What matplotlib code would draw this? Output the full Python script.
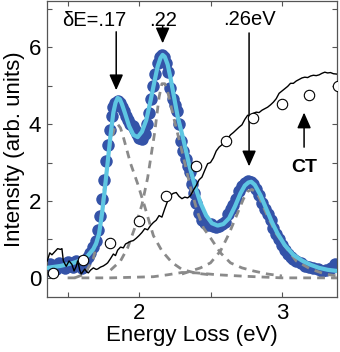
import matplotlib
matplotlib.use("Agg")
import matplotlib.pyplot as plt
from matplotlib.ticker import MultipleLocator

plt.rcParams['font.family'] = ['Liberation Sans', 'DejaVu Sans']

# ---- data ----
dots_x = [1.36, 1.38, 1.40, 1.42, 1.44, 1.46, 1.48, 1.50, 1.52, 1.54, 1.56, 1.58, 1.60, 1.62, 1.64,
          1.66, 1.68, 1.70, 1.715, 1.73, 1.74, 1.755, 1.77, 1.78, 1.795, 1.81, 1.82, 1.835, 1.85,
          1.865, 1.88, 1.895, 1.91, 1.925, 1.94, 1.955, 1.97, 1.985, 2.00, 2.02, 2.04, 2.055, 2.07,
          2.085, 2.10, 2.115, 2.13, 2.145, 2.16, 2.175, 2.19, 2.205, 2.22, 2.235, 2.25, 2.265, 2.28,
          2.295, 2.31, 2.325, 2.34, 2.355, 2.37, 2.385, 2.40, 2.42, 2.44, 2.46, 2.48, 2.50, 2.52,
          2.54, 2.56, 2.58, 2.60, 2.62, 2.64, 2.66, 2.68, 2.70, 2.72, 2.74, 2.76, 2.78, 2.80, 2.82,
          2.84, 2.86, 2.88, 2.90, 2.92, 2.94, 2.96, 2.98, 3.00, 3.02, 3.04, 3.06, 3.08, 3.10, 3.13,
          3.16, 3.19, 3.22, 3.25, 3.28, 3.31, 3.34, 3.37, 3.39]
dots_y = [0.20, 0.35, 0.28, 0.22, 0.38, 0.30, 0.25, 0.40, 0.32, 0.28, 0.45, 0.35, 0.25, 0.40, 0.55,
          0.65, 0.80, 0.95, 1.25, 1.60, 2.05, 2.55, 3.05, 3.45, 3.85, 4.20, 4.45, 4.55, 4.60,
          4.55, 4.45, 4.35, 4.20, 4.10, 4.00, 3.95, 3.85, 3.75, 3.65, 3.60, 3.75, 4.00, 4.30,
          4.65, 5.00, 5.30, 5.60, 5.75, 5.80, 5.75, 5.60, 5.35, 4.95, 4.65, 4.50, 4.35, 4.00,
          3.55, 3.30, 3.10, 2.90, 2.75, 2.45, 2.20, 1.95, 1.70, 1.50, 1.42, 1.38, 1.40, 1.35,
          1.32, 1.35, 1.40, 1.45, 1.65, 1.80, 1.90, 2.05, 2.25, 2.40, 2.48, 2.52, 2.50, 2.45, 2.30,
          2.15, 1.95, 1.80, 1.65, 1.50, 1.30, 1.15, 1.00, 0.85, 0.72, 0.62, 0.55, 0.50, 0.45, 0.38,
          0.32, 0.28, 0.25, 0.22, 0.18, 0.20, 0.25, 0.35, 0.30]

fit_x = [1.355, 1.45, 1.54, 1.60, 1.64, 1.68, 1.70, 1.72, 1.74, 1.76, 1.78, 1.80, 1.82, 1.835,
         1.85, 1.865, 1.88, 1.90, 1.93, 1.96, 1.99, 2.02, 2.05, 2.08, 2.11, 2.13, 2.15, 2.165,
         2.18, 2.20, 2.22, 2.24, 2.27, 2.31, 2.35, 2.39, 2.43, 2.47, 2.51, 2.55, 2.59, 2.63,
         2.67, 2.71, 2.74, 2.765, 2.785, 2.81, 2.85, 2.89, 2.93, 2.97, 3.02, 3.08, 3.14, 3.20,
         3.26, 3.32, 3.385]
fit_y = [0.26, 0.31, 0.39, 0.47, 0.57, 0.75, 0.90, 1.15, 1.65, 2.30, 3.00, 3.70, 4.30, 4.55,
         4.68, 4.65, 4.52, 4.30, 3.95, 3.72, 3.66, 3.80, 4.10, 4.60, 5.15, 5.50, 5.72, 5.80,
         5.75, 5.55, 5.20, 4.80, 4.20, 3.60, 2.95, 2.40, 1.95, 1.62, 1.42, 1.36, 1.40, 1.55,
         1.85, 2.20, 2.40, 2.48, 2.50, 2.42, 2.15, 1.80, 1.45, 1.15, 0.85, 0.60, 0.45, 0.34,
         0.26, 0.21, 0.18]

comp1_x = [1.55, 1.62, 1.68, 1.72, 1.76, 1.80, 1.83, 1.85, 1.87, 1.89, 1.94, 1.99, 2.04, 2.10,
           2.16, 2.23, 2.30, 2.40, 2.50]
comp1_y = [0.00, 0.10, 0.50, 1.20, 2.45, 3.50, 3.92, 4.00, 3.90, 3.66, 2.98, 2.45, 1.85, 1.10,
           0.70, 0.40, 0.22, 0.12, 0.08]

comp2_x = [1.80, 1.87, 1.92, 1.97, 2.02, 2.06, 2.11, 2.14, 2.16, 2.18, 2.20, 2.24, 2.30, 2.36,
           2.41, 2.45, 2.50, 2.57, 2.64, 2.72, 2.80, 2.90, 3.00]
comp2_y = [0.20, 0.44, 0.78, 1.30, 1.90, 2.60, 3.80, 4.70, 5.05, 5.05, 4.85, 4.20, 3.30, 2.35,
           1.70, 1.30, 1.04, 0.65, 0.39, 0.26, 0.18, 0.10, 0.05]

comp3_x = [2.30, 2.43, 2.50, 2.57, 2.63, 2.68, 2.73, 2.76, 2.79, 2.82, 2.84, 2.90, 2.96, 3.03,
           3.10, 3.20, 3.30, 3.385]
comp3_y = [0.10, 0.26, 0.39, 0.70, 1.15, 1.60, 2.05, 2.25, 2.30, 2.22, 2.10, 1.60, 1.15, 0.78,
           0.44, 0.23, 0.10, 0.05]

base_x = [1.50, 1.80, 2.10, 2.20, 2.30, 2.40, 2.55, 2.75, 3.00, 3.385]
base_y = [0.00, 0.00, 0.03, 0.08, 0.14, 0.13, 0.08, 0.04, 0.00, 0.00]

black_x = [1.357, 1.375, 1.39, 1.41, 1.43, 1.45, 1.46, 1.47, 1.49, 1.51, 1.53, 1.545, 1.56, 1.57,
           1.585, 1.595, 1.61, 1.62, 1.635, 1.645, 1.66, 1.68, 1.70, 1.71, 1.73, 1.75, 1.77,
           1.78, 1.80, 1.82, 1.835, 1.85, 1.87, 1.89, 1.905, 1.92, 1.94, 1.96, 1.98, 2.00, 2.02,
           2.04, 2.06, 2.08, 2.10, 2.12, 2.14, 2.16, 2.18, 2.20, 2.22, 2.24, 2.26, 2.28, 2.30,
           2.32, 2.34, 2.36, 2.38, 2.40, 2.42, 2.44, 2.46, 2.48, 2.50, 2.52, 2.54, 2.56, 2.58,
           2.60, 2.62, 2.64, 2.66, 2.68, 2.70, 2.72, 2.74, 2.76, 2.78, 2.80, 2.82, 2.84, 2.86,
           2.88, 2.90, 2.92, 2.94, 2.96, 2.98, 3.00, 3.02, 3.04, 3.06, 3.08, 3.10, 3.12, 3.14,
           3.16, 3.18, 3.20, 3.22, 3.24, 3.26, 3.28, 3.30, 3.32, 3.34, 3.36, 3.385]
black_y = [0.44, 0.65, 0.60, 0.68, 0.76, 0.74, 0.76, 0.44, 0.30, 0.44, 0.35, 0.18, 0.30, 0.44,
           0.20, 0.10, 0.18, 0.23, 0.15, 0.13, 0.20, 0.26, 0.22, 0.23, 0.28, 0.31, 0.36,
           0.39, 0.50, 0.62, 0.58, 0.72, 0.80, 0.78, 0.88, 0.91, 0.95, 0.97, 1.03, 1.10, 1.18,
           1.28, 1.25, 1.36, 1.44, 1.50, 1.62, 1.58, 1.80, 2.00, 2.15, 2.20, 2.22, 2.12, 2.06,
           2.10, 2.08, 2.14, 2.28, 2.40, 2.55, 2.62, 2.80, 2.97, 3.00, 3.12, 3.30, 3.40, 3.46,
           3.58, 3.62, 3.72, 3.78, 3.85, 3.92, 3.98, 4.12, 4.23, 4.22, 4.28, 4.31, 4.30, 4.36,
           4.40, 4.44, 4.50, 4.57, 4.66, 4.80, 4.86, 4.92, 4.98, 5.06, 5.06, 5.12, 5.16, 5.20,
           5.22, 5.21, 5.25, 5.27, 5.26, 5.28, 5.32, 5.35, 5.33, 5.34, 5.31, 5.30]

circ_x = [1.40, 1.61, 1.80, 2.00, 2.19, 2.40, 2.61, 2.80, 3.00, 3.19, 3.39]
circ_y = [0.13, 0.47, 0.91, 1.49, 2.14, 2.90, 3.55, 4.17, 4.53, 4.75, 5.00]

xticks = [2, 3]
yticks = [0, 2, 4, 6]

# ---- figure ----
fig = plt.figure(figsize=(3.40, 3.52), dpi=100)
ax = fig.add_axes([0.138, 0.156, 0.853, 0.841])

ax.plot(dots_x, dots_y, 'o', color='#3453a8', ms=9, mew=0, zorder=2)
dash = (0, (2.8, 2.2))
for cx, cy in [(comp1_x, comp1_y), (comp2_x, comp2_y), (comp3_x, comp3_y), (base_x, base_y)]:
    ax.plot(cx, cy, color='#8a8a8a', lw=2.0, linestyle=dash, zorder=3)
ax.plot(fit_x, fit_y, color='#5ec6e2', lw=3.0, zorder=4, solid_joinstyle='round')
ax.plot(black_x, black_y, color='black', lw=1.0, zorder=5)
ax.plot(circ_x, circ_y, 'o', mfc='white', mec='black', mew=0.8, ms=7.5, zorder=6)

ax.set_xlim(1.355, 3.385)
ax.set_ylim(-0.5, 7.2)
ax.set_xticks(xticks)
ax.set_yticks(yticks)
ax.xaxis.set_minor_locator(MultipleLocator(0.5))
ax.yaxis.set_minor_locator(MultipleLocator(1))
ax.tick_params(which='both', direction='in', top=True, right=True, length=3.6,
               width=0.8, color='#555555', labelsize=16, pad=4)
for s in ax.spines.values():
    s.set_color('#555555')
    s.set_linewidth(0.9)

ax.set_xlabel('Energy Loss (eV)', fontsize=16, labelpad=1)
ax.set_ylabel('Intensity (arb. units)', fontsize=16, labelpad=3)

# annotations
akw = dict(arrowstyle='-|>,head_length=0.95,head_width=0.42', color='black', lw=1.1,
           shrinkA=0, shrinkB=0)
ax.text(1.686, 6.70, 'δE=.17', fontsize=14.5, ha='center', va='center')
ax.annotate('', xy=(1.84, 4.88), xytext=(1.84, 6.4), arrowprops=akw)
ax.text(2.17, 6.70, '.22', fontsize=14.5, ha='center', va='center')
ax.annotate('', xy=(2.165, 6.1), xytext=(2.165, 6.55), arrowprops=akw)
ax.text(2.77, 6.72, '.26eV', fontsize=14.5, ha='center', va='center')
ax.annotate('', xy=(2.77, 2.9), xytext=(2.77, 6.37), arrowprops=akw)
ax.annotate('', xy=(3.155, 4.3), xytext=(3.155, 3.4), arrowprops=akw)
ax.text(3.155, 2.87, 'CT', fontsize=14, fontweight='bold', ha='center', va='center')

fig.savefig('out.png', dpi=100)
